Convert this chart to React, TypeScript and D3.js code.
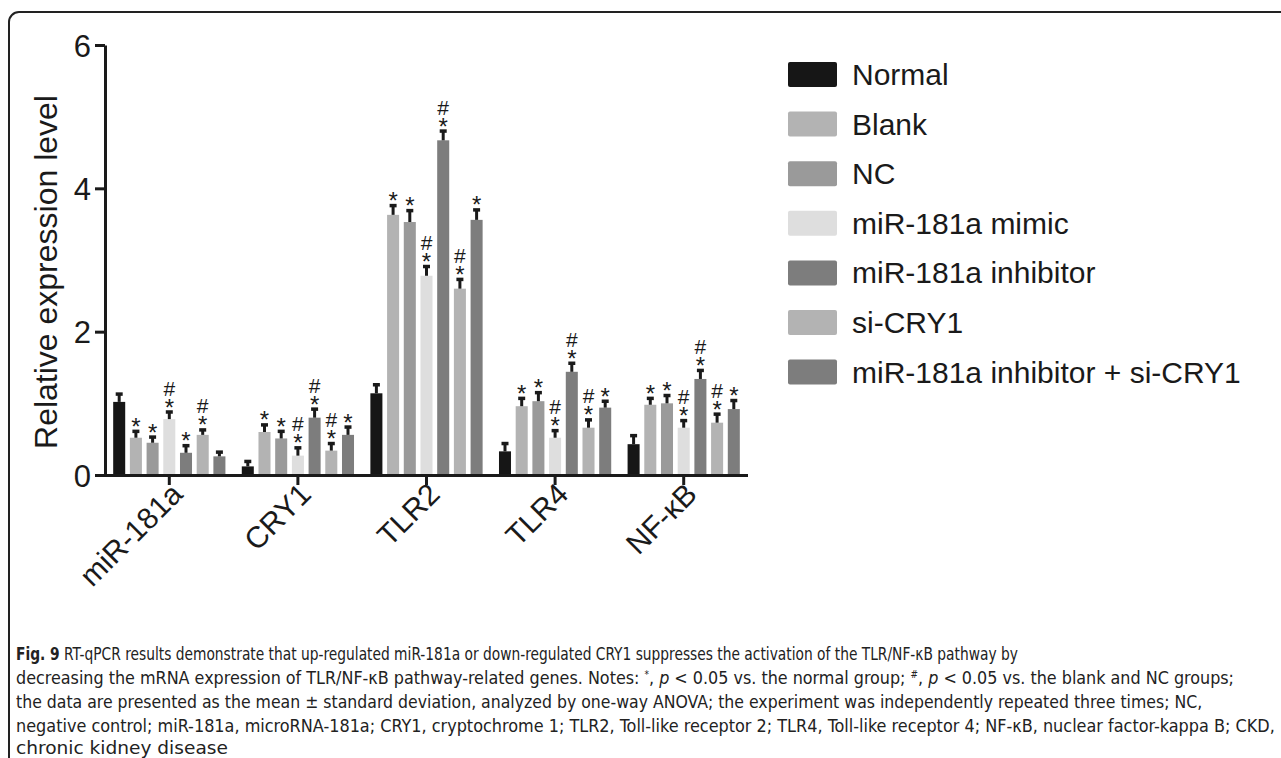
import React, { useEffect, useRef } from 'react';
import * as d3 from 'd3';

const categories = ['miR-181a', 'CRY1', 'TLR2', 'TLR4', 'NF-κB'];
const groups = ['Normal', 'Blank', 'NC', 'miR-181a mimic', 'miR-181a inhibitor', 'si-CRY1', 'miR-181a inhibitor + si-CRY1'];
const groupColors = ['#161616', '#b3b3b3', '#9a9a9a', '#dedede', '#7d7d7d', '#b3b3b3', '#7d7d7d'];

// mean per group, one value per category
const normalVals = [1.02, 0.12, 1.14, 0.33, 0.43];
const blankVals = [0.52, 0.6, 3.63, 0.96, 0.98];
const ncVals = [0.45, 0.51, 3.53, 1.03, 1.0];
const mimicVals = [0.78, 0.27, 2.78, 0.52, 0.66];
const inhibitorVals = [0.31, 0.8, 4.67, 1.44, 1.34];
const siCry1Vals = [0.56, 0.34, 2.6, 0.66, 0.73];
const comboVals = [0.26, 0.56, 3.56, 0.94, 0.92];

// standard deviation
const normalSd = [0.13, 0.09, 0.14, 0.13, 0.14];
const blankSd = [0.11, 0.12, 0.15, 0.13, 0.11];
const ncSd = [0.1, 0.12, 0.18, 0.14, 0.13];
const mimicSd = [0.12, 0.13, 0.15, 0.12, 0.12];
const inhibitorSd = [0.12, 0.14, 0.15, 0.14, 0.14];
const siCry1Sd = [0.09, 0.12, 0.15, 0.13, 0.14];
const comboSd = [0.08, 0.13, 0.16, 0.11, 0.14];

// significance marks
const normalSig = ['', '', '', '', ''];
const blankSig = ['*', '*', '*', '*', '*'];
const ncSig = ['*', '*', '*', '*', '*'];
const mimicSig = ['#*', '#*', '#*', '#*', '#*'];
const inhibitorSig = ['*', '#*', '#*', '#*', '#*'];
const siCry1Sig = ['#*', '#*', '#*', '#*', '#*'];
const comboSig = ['', '*', '*', '*', '*'];

const yTicks = [0, 2, 4, 6];

const values = [normalVals, blankVals, ncVals, mimicVals, inhibitorVals, siCry1Vals, comboVals];
const sds = [normalSd, blankSd, ncSd, mimicSd, inhibitorSd, siCry1Sd, comboSd];
const sigs = [normalSig, blankSig, ncSig, mimicSig, inhibitorSig, siCry1Sig, comboSig];

const FONT = '"Liberation Sans", Arial, Helvetica, sans-serif';
const CAPTION_FONT = '"Liberation Sans Narrow", "DejaVu Sans Condensed", "Open Sans", sans-serif';
const INK = '#1a1a1a';

const App = () => {
  const ref = useRef<SVGSVGElement | null>(null);

  useEffect(() => {
    if (!ref.current) return;
    const svg = d3.select(ref.current);
    svg.selectAll('*').remove();

    // figure frame
    svg.append('path')
      .attr('d', 'M9,758 V22 A10,10 0 0 1 19,12 H1281')
      .attr('fill', 'none')
      .attr('stroke', '#222')
      .attr('stroke-width', 2);

    const left = 105, right = 748, top = 45, bottom = 475;

    const x0 = d3.scaleBand().domain(categories).range([left, right]).paddingInner(0).paddingOuter(0);
    const x1 = d3.scaleBand().domain(groups).range([0, x0.bandwidth()]).paddingInner(0.28).paddingOuter(0.49);
    const y = d3.scaleLinear().domain([0, 6]).range([bottom, top]);

    const g = svg.append('g');

    const rows = categories.flatMap((c, ci) => groups.map((gr, gi) => ({
      cat: c, group: gr, gi, v: values[gi][ci], sd: sds[gi][ci], sig: sigs[gi][ci]
    })));

    // bars
    g.selectAll('.bar')
      .data(rows)
      .enter().append('rect')
      .attr('x', d => (x0(d.cat) as number) + (x1(d.group) as number))
      .attr('y', d => y(d.v))
      .attr('width', x1.bandwidth())
      .attr('height', d => bottom - y(d.v))
      .attr('fill', d => groupColors[d.gi]);

    // error bars
    const cx = (d: any) => (x0(d.cat) as number) + (x1(d.group) as number) + x1.bandwidth() / 2;
    g.selectAll('.err')
      .data(rows)
      .enter().append('line')
      .attr('x1', cx).attr('x2', cx)
      .attr('y1', d => y(d.v)).attr('y2', d => y(d.v + d.sd) + 1)
      .attr('stroke', INK).attr('stroke-width', 3);
    g.selectAll('.cap')
      .data(rows)
      .enter().append('line')
      .attr('x1', d => cx(d) - 3.5).attr('x2', d => cx(d) + 3.5)
      .attr('y1', d => y(d.v + d.sd) + 1.5).attr('y2', d => y(d.v + d.sd) + 1.5)
      .attr('stroke', INK).attr('stroke-width', 3.5);

    // significance marks: "*" above the cap, "#" stacked above it
    const marks = g.selectAll('.sig')
      .data(rows.filter(d => d.sig !== ''))
      .enter().append('text')
      .attr('text-anchor', 'middle')
      .style('font-family', FONT)
      .attr('fill', INK);
    marks.filter(d => d.sig.includes('#'))
      .append('tspan')
      .attr('x', cx)
      .attr('y', d => y(d.v + d.sd) - 15)
      .style('font-size', '21px')
      .text('#');
    marks.append('tspan')
      .attr('x', cx)
      .attr('y', d => y(d.v + d.sd) + 5)
      .style('font-size', '24px')
      .text('*');

    // axes
    const yAxis = g.append('g')
      .attr('transform', `translate(${left},0)`)
      .call(d3.axisLeft(y).tickValues(yTicks).tickSize(10).tickSizeOuter(0).tickPadding(4).tickFormat(d3.format('d')));
    yAxis.select('.domain').attr('stroke', INK).attr('stroke-width', 3);
    yAxis.selectAll('.tick line').attr('stroke', INK).attr('stroke-width', 3);
    yAxis.selectAll('.tick text')
      .style('font-family', FONT).style('font-size', '31px').attr('fill', INK).attr('dy', '0.36em');

    const xAxis = g.append('g')
      .attr('transform', `translate(0,${bottom})`)
      .call(d3.axisBottom(x0).tickSize(10).tickSizeOuter(0).tickPadding(6));
    xAxis.select('.domain').attr('stroke', INK).attr('stroke-width', 3).attr('d', `M${left - 10},0.5H${right}`);
    xAxis.selectAll('.tick line').attr('stroke', INK).attr('stroke-width', 3);
    xAxis.selectAll('.tick text')
      .style('font-family', FONT).style('font-size', '30px').attr('fill', INK)
      .attr('text-anchor', 'end')
      .attr('dy', '0')
      .attr('transform', 'translate(15,21) rotate(-45)')
      .attr('y', 0).attr('x', 0);

    // y title
    svg.append('text')
      .attr('transform', `translate(57,${(top + bottom) / 2 + 12}) rotate(-90)`)
      .attr('text-anchor', 'middle')
      .style('font-family', FONT).style('font-size', '32px').attr('fill', INK)
      .text('Relative expression level');

    // legend
    const leg = svg.append('g').attr('transform', 'translate(788,62)');
    groups.forEach((gr, i) => {
      const row = leg.append('g').attr('transform', `translate(0,${i * 49.6})`);
      row.append('rect').attr('width', 49).attr('height', 25).attr('rx', 2).attr('fill', groupColors[i]);
      row.append('text').attr('x', 64).attr('y', 23)
        .style('font-family', FONT).style('font-size', '30px').attr('fill', INK).text(gr);
    });

    // caption: each line squeezed horizontally to the width it has in the figure
    const cap = svg.append('g').style('font-family', CAPTION_FONT).style('font-size', '18px').attr('fill', '#222');
    const fitLine = (baseline: number, width: number) => {
      const t = cap.append('text').attr('x', 0).attr('y', 0);
      return {
        t,
        done: () => {
          const len = (t.node() as SVGTextElement).getComputedTextLength();
          t.attr('transform', `translate(16,${baseline}) scale(${width / len},1)`);
        }
      };
    };

    const a = fitLine(660, 1002);
    a.t.append('tspan').style('font-weight', 'bold').text('Fig. 9');
    a.t.append('tspan').text(' RT-qPCR results demonstrate that up-regulated miR-181a or down-regulated CRY1 suppresses the activation of the TLR/NF-κB pathway by');
    a.done();

    const b = fitLine(684, 1219);
    b.t.append('tspan').text('decreasing the mRNA expression of TLR/NF-κB pathway-related genes. Notes: ');
    b.t.append('tspan').attr('dy', -6).style('font-size', '10px').text('*');
    b.t.append('tspan').attr('dy', 6).text(', ');
    b.t.append('tspan').style('font-style', 'italic').text('p');
    b.t.append('tspan').text(' < 0.05 vs. the normal group; ');
    b.t.append('tspan').attr('dy', -6).style('font-size', '10px').text('#');
    b.t.append('tspan').attr('dy', 6).text(', ');
    b.t.append('tspan').style('font-style', 'italic').text('p');
    b.t.append('tspan').text(' < 0.05 vs. the blank and NC groups;');
    b.done();

    const c = fitLine(708, 1187);
    c.t.text('the data are presented as the mean ± standard deviation, analyzed by one-way ANOVA; the experiment was independently repeated three times; NC,');
    c.done();

    const d4 = fitLine(732, 1260);
    d4.t.text('negative control; miR-181a, microRNA-181a; CRY1, cryptochrome 1; TLR2, Toll-like receptor 2; TLR4, Toll-like receptor 4; NF-κB, nuclear factor-kappa B; CKD,');
    d4.done();

    const e = fitLine(754, 212);
    e.t.text('chronic kidney disease');
    e.done();
  }, []);

  return (
    <svg ref={ref} width={1281} height={758} style={{ position: 'absolute', left: 0, top: 0, background: '#fff' }} />
  );
};

export default App;
